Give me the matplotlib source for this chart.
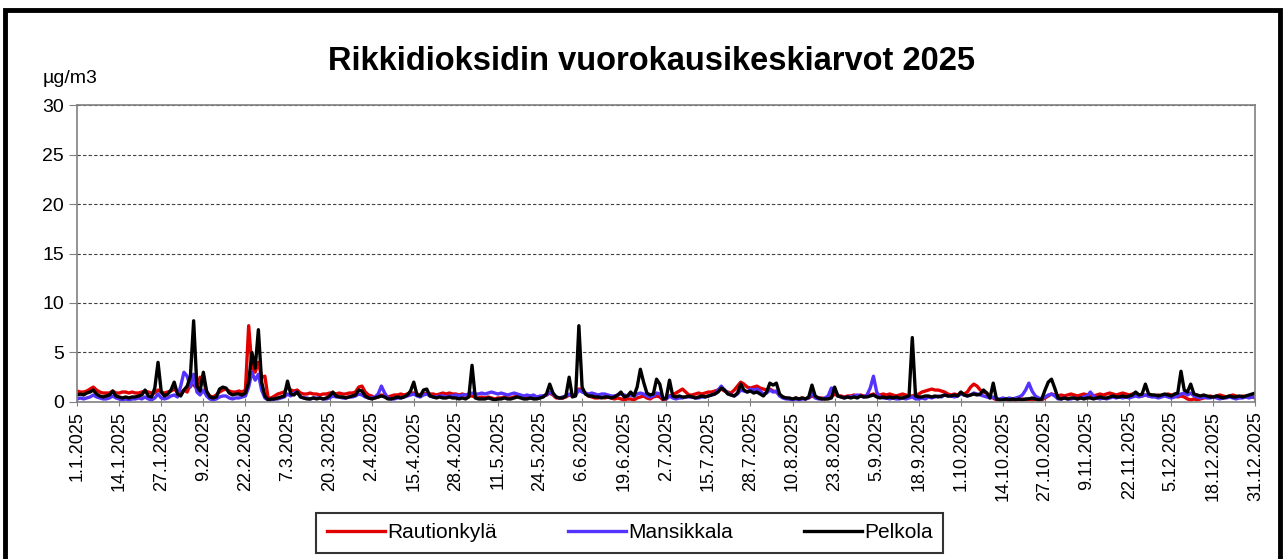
import matplotlib
matplotlib.use("Agg")
import matplotlib.pyplot as plt
from matplotlib.patches import Rectangle
import numpy as np

plt.rcParams['font.family'] = ['Liberation Sans', 'DejaVu Sans']

title = "Rikkidioksidin vuorokausikeskiarvot 2025"
unit = "µg/m3"
series_names = ["Rautionkylä", "Mansikkala", "Pelkola"]
series_colors = ["#e00000", "#5533ff", "#000000"]

tick_labels = ["1.1.2025", "14.1.2025", "27.1.2025", "9.2.2025", "22.2.2025", "7.3.2025",
               "20.3.2025", "2.4.2025", "15.4.2025", "28.4.2025", "11.5.2025", "24.5.2025",
               "6.6.2025", "19.6.2025", "2.7.2025", "15.7.2025", "28.7.2025", "10.8.2025",
               "23.8.2025", "5.9.2025", "18.9.2025", "1.10.2025", "14.10.2025", "27.10.2025",
               "9.11.2025", "22.11.2025", "5.12.2025", "18.12.2025", "31.12.2025"]
tick_step = 13  # days between labels

# daily means, 1.1.-31.12.2025
rautionkyla = [
    1.1, 1.0, 1.0, 1.1, 1.3, 1.5, 1.2, 1.0, 0.9, 0.9,
    0.9, 1.1, 0.9, 0.9, 1.0, 1.0, 0.9, 1.0, 0.9, 0.9,
    1.0, 1.1, 1.0, 0.9, 0.9, 1.2, 1.0, 0.9, 1.0, 1.1,
    1.3, 1.0, 0.9, 1.2, 1.0, 1.8, 1.7, 1.4, 2.5, 2.2,
    1.0, 0.6, 0.5, 0.7, 1.0, 1.2, 1.3, 1.1, 1.0, 1.0,
    1.1, 1.0, 1.2, 7.7, 3.5, 3.0, 4.0, 2.5, 2.6, 0.4,
    0.4, 0.6, 0.8, 0.9, 1.0, 1.5, 1.2, 1.1, 1.2, 0.9,
    0.8, 0.8, 0.9, 0.8, 0.8, 0.7, 0.8, 0.8, 0.9, 0.9,
    0.8, 0.9, 0.8, 0.8, 0.9, 0.9, 1.0, 1.5, 1.6, 1.0,
    0.7, 0.6, 0.4, 0.5, 0.7, 0.6, 0.5, 0.6, 0.7, 0.7,
    0.8, 0.7, 0.8, 0.9, 0.9, 0.8, 0.7, 0.8, 0.9, 0.8,
    0.8, 0.7, 0.8, 0.9, 0.8, 0.9, 0.8, 0.8, 0.7, 0.8,
    0.7, 0.6, 0.6, 0.5, 0.4, 0.5, 0.4, 0.5, 0.4, 0.3,
    0.4, 0.4, 0.5, 0.4, 0.4, 0.5, 0.6, 0.5, 0.4, 0.5,
    0.4, 0.5, 0.4, 0.5, 0.6, 0.7, 0.9, 0.7, 0.4, 0.4,
    0.4, 0.5, 0.7, 0.6, 0.8, 1.3, 1.2, 0.9, 0.6, 0.5,
    0.4, 0.4, 0.5, 0.4, 0.5, 0.4, 0.3, 0.4, 0.3, 0.2,
    0.3, 0.3, 0.2, 0.4, 0.5, 0.6, 0.4, 0.3, 0.5, 0.6,
    0.5, 0.2, 0.3, 0.6, 0.7, 0.9, 1.1, 1.3, 1.0, 0.7,
    0.7, 0.8, 0.9, 0.8, 0.9, 1.0, 1.0, 1.1, 1.2, 1.3,
    1.1, 1.0, 0.9, 1.2, 1.6, 2.0, 1.8, 1.5, 1.4, 1.5,
    1.6, 1.4, 1.3, 1.2, 1.3, 1.1, 1.0, 0.7, 0.5, 0.4,
    0.3, 0.2, 0.4, 0.3, 0.4, 0.3, 0.4, 0.6, 0.5, 0.4,
    0.4, 0.3, 0.4, 0.5, 0.8, 0.6, 0.6, 0.5, 0.6, 0.6,
    0.7, 0.6, 0.7, 0.6, 0.6, 0.7, 0.8, 0.6, 0.7, 0.8,
    0.7, 0.8, 0.7, 0.6, 0.7, 0.8, 0.7, 0.6, 0.6, 0.7,
    0.8, 1.0, 1.1, 1.2, 1.3, 1.2, 1.2, 1.1, 1.0, 0.8,
    0.7, 0.8, 0.7, 0.9, 0.8, 1.0, 1.5, 1.8, 1.6, 1.2,
    1.0, 0.9, 0.5, 0.4, 0.2, 0.2, 0.3, 0.2, 0.2, 0.1,
    0.2, 0.2, 0.3, 0.2, 0.3, 0.2, 0.3, 0.2, 0.2, 0.4,
    0.6, 0.8, 0.7, 0.6, 0.7, 0.6, 0.7, 0.8, 0.7, 0.6,
    0.7, 0.8, 0.7, 0.6, 0.6, 0.7, 0.8, 0.7, 0.8, 0.9,
    0.8, 0.7, 0.8, 0.9, 0.8, 0.7, 0.8, 0.9, 0.7, 0.6,
    0.7, 0.6, 0.7, 0.6, 0.7, 0.6, 0.7, 0.8, 0.7, 0.6,
    0.5, 0.6, 0.5, 0.3, 0.2, 0.3, 0.2, 0.3, 0.4, 0.5,
    0.6, 0.5, 0.6, 0.7, 0.6, 0.5, 0.6, 0.7, 0.6, 0.5,
    0.6, 0.5, 0.6, 0.5, 0.4]

mansikkala = [
    0.3, 0.4, 0.3, 0.4, 0.5, 0.7, 0.5, 0.4, 0.3, 0.3,
    0.4, 0.6, 0.4, 0.3, 0.2, 0.3, 0.2, 0.3, 0.3, 0.4,
    0.3, 0.5, 0.3, 0.2, 0.4, 0.8, 0.4, 0.3, 0.4, 0.6,
    0.7, 0.5, 1.6, 3.0, 2.6, 1.5, 2.8, 1.0, 0.7, 1.2,
    0.6, 0.3, 0.2, 0.3, 0.5, 0.6, 0.6, 0.4, 0.3, 0.4,
    0.4, 0.5, 0.6, 1.5, 3.0, 2.2, 2.8, 1.2, 0.4, 0.2,
    0.2, 0.3, 0.3, 0.4, 0.5, 0.8, 0.6, 0.9, 1.0, 0.5,
    0.4, 0.4, 0.3, 0.4, 0.4, 0.4, 0.3, 0.3, 0.4, 0.6,
    0.5, 0.5, 0.4, 0.4, 0.5, 0.5, 0.6, 0.8, 0.7, 0.5,
    0.4, 0.4, 0.5, 0.8, 1.6, 0.9, 0.4, 0.3, 0.3, 0.4,
    0.4, 0.5, 0.6, 0.7, 0.8, 0.6, 0.5, 0.7, 0.8, 0.6,
    0.5, 0.5, 0.6, 0.6, 0.5, 0.6, 0.6, 0.7, 0.6, 0.7,
    0.7, 0.8, 0.9, 0.8, 0.8, 0.9, 0.8, 0.9, 1.0, 0.9,
    0.8, 0.9, 0.8, 0.7, 0.8, 0.9, 0.8, 0.7, 0.6, 0.7,
    0.6, 0.7, 0.5, 0.6, 0.6, 0.7, 1.0, 0.8, 0.5, 0.4,
    0.5, 0.6, 0.8, 0.6, 0.7, 1.2, 1.0, 0.9, 0.8, 0.9,
    0.8, 0.7, 0.8, 0.8, 0.7, 0.6, 0.6, 0.7, 0.8, 0.7,
    0.6, 0.7, 0.6, 0.8, 0.9, 0.8, 0.6, 0.5, 0.6, 0.9,
    0.8, 0.4, 0.3, 0.6, 0.4, 0.3, 0.4, 0.4, 0.5, 0.5,
    0.5, 0.4, 0.4, 0.5, 0.5, 0.6, 0.7, 0.8, 1.2, 1.6,
    1.2, 0.9, 0.7, 0.6, 0.8, 1.2, 1.1, 1.0, 1.3, 1.2,
    1.3, 1.1, 0.8, 0.9, 1.2, 1.0, 1.1, 0.6, 0.4, 0.3,
    0.3, 0.2, 0.3, 0.2, 0.3, 0.3, 0.4, 0.9, 0.4, 0.3,
    0.3, 0.4, 0.6, 1.4, 1.3, 0.6, 0.5, 0.4, 0.5, 0.5,
    0.6, 0.7, 0.6, 0.5, 0.7, 1.4, 2.6, 1.0, 0.5, 0.4,
    0.4, 0.3, 0.4, 0.3, 0.3, 0.4, 0.3, 0.4, 0.5, 0.3,
    0.3, 0.4, 0.3, 0.5, 0.4, 0.5, 0.6, 0.5, 0.7, 0.6,
    0.6, 0.5, 0.6, 0.8, 0.7, 0.6, 0.7, 0.9, 0.8, 0.7,
    0.6, 0.5, 0.4, 0.5, 0.3, 0.3, 0.4, 0.3, 0.4, 0.3,
    0.4, 0.5, 0.7, 1.2, 1.9, 1.1, 0.6, 0.4, 0.3, 0.5,
    0.7, 0.8, 0.6, 0.3, 0.3, 0.4, 0.3, 0.3, 0.4, 0.3,
    0.4, 0.5, 0.6, 1.0, 0.6, 0.4, 0.3, 0.4, 0.3, 0.4,
    0.5, 0.4, 0.5, 0.4, 0.5, 0.4, 0.5, 0.6, 0.5, 0.6,
    0.7, 0.6, 0.5, 0.5, 0.4, 0.5, 0.6, 0.5, 0.4, 0.5,
    0.6, 0.8, 0.9, 0.7, 0.9, 0.6, 0.5, 0.4, 0.5, 0.4,
    0.4, 0.5, 0.4, 0.3, 0.4, 0.4, 0.5, 0.4, 0.3, 0.4,
    0.4, 0.5, 0.4, 0.5, 0.5]

pelkola = [
    0.7, 0.8, 0.7, 0.9, 1.0, 1.2, 0.8, 0.6, 0.5, 0.6,
    0.7, 1.1, 0.6, 0.5, 0.4, 0.5, 0.4, 0.5, 0.5, 0.6,
    0.7, 1.2, 0.6, 0.5, 1.4, 4.0, 1.0, 0.6, 0.8, 1.2,
    2.0, 0.8, 0.6, 1.2, 1.6, 2.6, 8.2, 1.6, 1.1, 3.0,
    1.1, 0.5, 0.4, 0.5, 1.3, 1.5, 1.4, 0.9, 0.7, 0.8,
    0.8, 0.7, 0.9, 2.0, 5.0, 3.4, 7.3, 2.0, 0.6, 0.2,
    0.3, 0.3, 0.4, 0.5, 0.6, 2.1, 0.8, 0.7, 1.0, 0.5,
    0.4, 0.3, 0.3, 0.4, 0.3, 0.4, 0.3, 0.4, 0.6, 1.0,
    0.6, 0.5, 0.5, 0.4, 0.5, 0.6, 0.7, 1.2, 1.1, 0.6,
    0.4, 0.3, 0.4, 0.5, 0.6, 0.5, 0.3, 0.3, 0.4, 0.5,
    0.4, 0.5, 0.7, 1.1, 2.0, 0.7, 0.6, 1.2, 1.3, 0.6,
    0.5, 0.4, 0.5, 0.4, 0.4, 0.5, 0.4, 0.4, 0.3, 0.4,
    0.3, 0.5, 3.7, 0.4, 0.3, 0.3, 0.3, 0.4, 0.3, 0.2,
    0.3, 0.3, 0.4, 0.3, 0.3, 0.4, 0.5, 0.4, 0.3, 0.3,
    0.4, 0.3, 0.3, 0.4, 0.5, 0.8, 1.8, 0.9, 0.5, 0.4,
    0.4, 0.6, 2.5, 0.5, 0.6, 7.7, 1.5, 0.8, 0.6, 0.6,
    0.5, 0.5, 0.4, 0.5, 0.5, 0.4, 0.5, 0.7, 1.0, 0.5,
    0.6, 1.0, 0.6, 1.5, 3.3, 2.0, 0.9, 0.7, 0.8, 2.3,
    1.8, 0.3, 0.4, 2.2, 0.6, 0.5, 0.6, 0.5, 0.5, 0.6,
    0.5, 0.4, 0.5, 0.6, 0.5, 0.6, 0.7, 0.8, 1.0, 1.4,
    1.2, 0.8, 0.7, 0.6, 0.9, 1.8, 1.2, 1.0, 1.1, 0.9,
    1.0, 0.8, 0.6, 1.0, 1.9, 1.7, 1.9, 0.8, 0.5, 0.4,
    0.4, 0.3, 0.4, 0.3, 0.4, 0.3, 0.5, 1.7, 0.6, 0.4,
    0.3, 0.3, 0.3, 0.4, 1.5, 0.6, 0.5, 0.4, 0.5, 0.4,
    0.5, 0.4, 0.6, 0.5, 0.5, 0.6, 0.7, 0.5, 0.4, 0.5,
    0.4, 0.5, 0.4, 0.5, 0.4, 0.4, 0.5, 0.6, 6.5, 0.6,
    0.5, 0.5, 0.6, 0.6, 0.5, 0.6, 0.5, 0.6, 0.7, 0.6,
    0.6, 0.7, 0.6, 1.0, 0.7, 0.6, 0.7, 0.8, 0.7, 0.8,
    1.2, 0.9, 0.4, 1.9, 0.3, 0.2, 0.2, 0.3, 0.2, 0.3,
    0.2, 0.3, 0.2, 0.3, 0.3, 0.4, 0.3, 0.2, 0.3, 1.2,
    2.0, 2.3, 1.4, 0.4, 0.3, 0.4, 0.3, 0.4, 0.4, 0.3,
    0.4, 0.3, 0.4, 0.4, 0.3, 0.4, 0.5, 0.4, 0.4, 0.5,
    0.6, 0.5, 0.5, 0.6, 0.5, 0.6, 0.7, 1.0, 0.7, 0.8,
    1.8, 0.8, 0.7, 0.7, 0.6, 0.7, 0.8, 0.7, 0.6, 0.8,
    0.9, 3.1, 1.2, 1.0, 1.8, 0.8, 0.7, 0.6, 0.7, 0.6,
    0.5, 0.5, 0.6, 0.5, 0.4, 0.5, 0.6, 0.5, 0.5, 0.6,
    0.5, 0.6, 0.7, 0.8, 0.9]

series = [rautionkyla, mansikkala, pelkola]
days = np.arange(len(pelkola))

fig = plt.figure(figsize=(12.85, 5.59), dpi=100)
ax = fig.add_axes([0.06, 0.281, 0.917, 0.531])

for vals, name, col in zip(series, series_names, series_colors):
    ax.plot(days, vals, color=col, lw=2.4, label=name, solid_joinstyle='round')

ax.set_xlim(0, len(pelkola) - 1)
ax.set_ylim(0, 30)
ax.set_yticks(range(0, 31, 5))
ax.set_xticks(np.arange(len(tick_labels)) * tick_step)
ax.set_xticklabels(tick_labels, rotation=90, fontsize=13)
ax.tick_params(axis='y', labelsize=14, length=6, color='#808080')
ax.tick_params(axis='x', length=6, color='#808080', direction='inout')
ax.yaxis.grid(True, ls=(0, (3, 2)), color='#404040', lw=0.8)
for s in ax.spines.values():
    s.set_color('#808080')
    s.set_linewidth(1.2)

fig.text(0.507, 0.89, title, fontsize=23.5, fontweight='bold', ha='center', va='center')
fig.text(0.033, 0.852, unit, fontsize=14)

leg = fig.legend(loc='center', bbox_to_anchor=(0.49, 0.047), ncol=3, fontsize=15,
                 frameon=True, fancybox=False, handlelength=2.8, handletextpad=0.1,
                 columnspacing=3.4, borderpad=0.5, borderaxespad=0)
leg.get_frame().set_edgecolor('black')
leg.get_frame().set_linewidth(1.5)

fig.patches.append(Rectangle((0.004, -0.05), 0.992, 1.032, transform=fig.transFigure,
                             fill=False, edgecolor='black', lw=3.5))

fig.savefig("out.png", dpi=100)
